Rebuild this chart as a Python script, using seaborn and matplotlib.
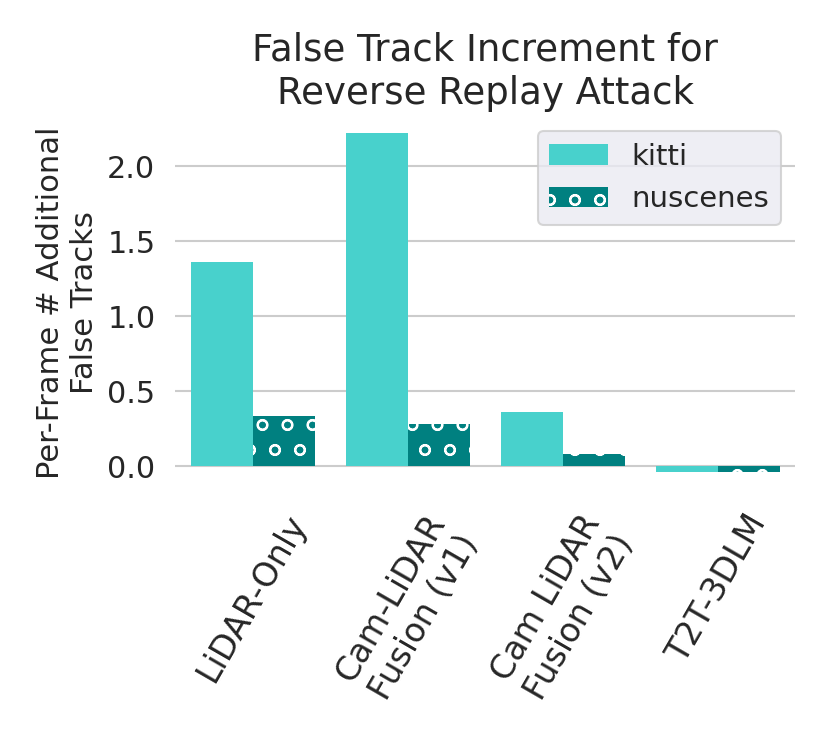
import numpy as np
import pandas as pd
import matplotlib
matplotlib.use("Agg")
import matplotlib.pyplot as plt
import seaborn as sns

# data
models = ["LiDAR-Only", "Cam-LiDAR\nFusion (v1)", "Cam LiDAR\nFusion (v2)", "T2T-3DLM"]
kitti = [1.36, 2.22, 0.36, -0.04]
nuscenes = [0.335, 0.28, 0.083, -0.04]
datasets = ["kitti", "nuscenes"]
colors = ["mediumturquoise", "teal"]

df = pd.DataFrame({
    "model": models * 2,
    "dataset": ["kitti"] * len(models) + ["nuscenes"] * len(models),
    "value": kitti + nuscenes,
})

sns.set_theme(style="whitegrid")
plt.rcParams['font.family'] = ['DejaVu Sans']
plt.rcParams['hatch.color'] = 'white'

fig, ax = plt.subplots(figsize=(830 / 150, 755 / 150), dpi=150)
fig.subplots_adjust(left=0.211, right=0.958, top=0.846, bottom=0.352)

sns.barplot(data=df, x="model", y="value", hue="dataset", hue_order=datasets,
            palette=colors, saturation=1, linewidth=0, ax=ax)

# hatch the nuscenes bars
for bar in ax.containers[1]:
    bar.set_hatch("o")
    bar.set_edgecolor("white")
    bar.set_linewidth(0)

sns.despine(left=True, bottom=True)
ax.grid(axis="x", visible=False)
ax.set_xlabel("")
ax.set_ylabel("Per-Frame # Additional\nFalse Tracks", fontsize=14.7)
ax.set_title("False Track Increment for\nReverse Replay Attack", fontsize=17.8)
ax.tick_params(axis="y", labelsize=14.5)
ax.tick_params(axis="x", labelsize=16, rotation=60)

leg = ax.legend(title=None, fontsize=14, loc="upper right", facecolor="#EAEAF2",
                frameon=True)
for h in leg.legend_handles:
    h.set_linewidth(0)
    if h.get_label() == "nuscenes":
        h.set_hatch("o")

plt.savefig("out.png", dpi=150)
